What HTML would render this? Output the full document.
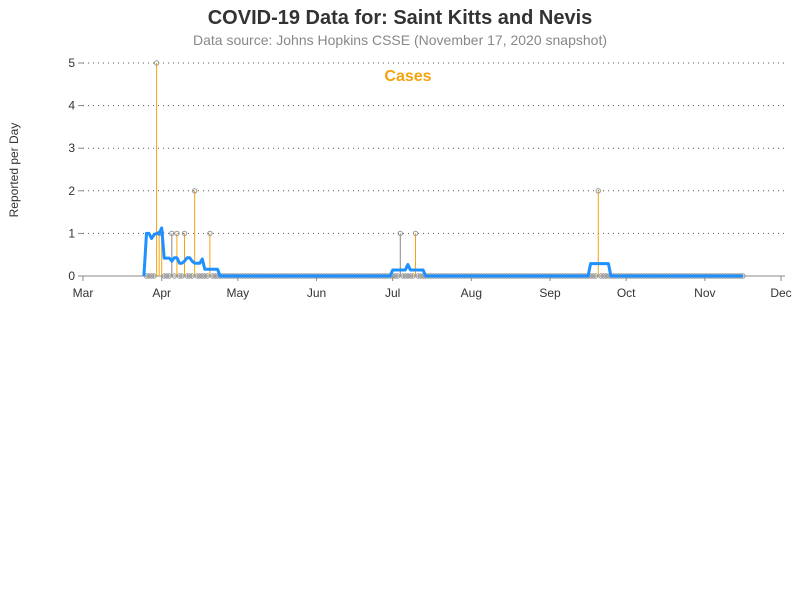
<!DOCTYPE html>
<html><head><meta charset="utf-8"><style>
body{margin:0;background:#fff;font-family:"Liberation Sans",sans-serif}
</style></head><body>
<svg id="chart" width="800" height="600" xmlns="http://www.w3.org/2000/svg" font-family="Liberation Sans, sans-serif">
<text x="400" y="24" text-anchor="middle" font-size="20" font-weight="bold" fill="#333">COVID-19 Data for: Saint Kitts and Nevis</text>
<text x="400" y="45" text-anchor="middle" font-size="14" fill="#888">Data source: Johns Hopkins CSSE (November 17, 2020 snapshot)</text>
<text transform="translate(18,170) rotate(-90)" text-anchor="middle" font-size="12" fill="#333">Reported per Day</text>
<text x="408" y="81" text-anchor="middle" font-size="16" font-weight="bold" fill="#f5a30f">Cases</text>
<g id="grid"></g><g id="axes"></g><g id="marks"></g>
</svg>
<script>
const yTicks=[0,1,2,3,4,5];
const monthLabels=["Mar","Apr","May","Jun","Jul","Aug","Sep","Oct","Nov","Dec"];
const monthStartDays=[0,31,61,92,122,153,184,214,245,275];
// daily cases: [dayIndex since Mar 1, value]
const caseDays=[29,30,31,35,37,40,44,50,125,131,203];
const caseVals=[5,1,1,1,1,1,2,1,1,1,2];
const grayDays=[35,125];
const firstDay=25, lastDay=260;
// 7-day average: [dayIndex, value]
const avgDays=[24,25,26,27,28,29,30,31,32,33,34,35,36,37,38,39,40,41,42,43,44,45,46,47,48,49,50,51,52,53,54,121,122,127,128,129,134,135,199,200,207,208];
const avgVals=[0,1,1,0.88,0.97,1,1,1.13,0.42,0.42,0.42,0.35,0.43,0.43,0.3,0.3,0.35,0.43,0.43,0.35,0.3,0.3,0.3,0.4,0.16,0.16,0.16,0.16,0.16,0.16,0,0,0.14,0.14,0.27,0.14,0.14,0,0,0.29,0.29,0];
const NS="http://www.w3.org/2000/svg";
const x=d=>83+d*698/275, y=v=>276-v*42.6;
function mk(t,a,p){const e=document.createElementNS(NS,t);for(const k in a)e.setAttribute(k,a[k]);p.appendChild(e);return e;}
const grid=document.getElementById('grid'),axes=document.getElementById('axes'),marks=document.getElementById('marks');
yTicks.forEach(v=>{
 if(v>0){const g=mk('line',{x1:83,x2:785,y1:y(v),y2:y(v),stroke:'#555','stroke-dasharray':'1,4'},grid);
 
 }
 const t=mk('text',{x:75,y:y(v)+4,'text-anchor':'end','font-size':12,fill:'#333'},axes);t.textContent=v;
 
 
 mk('line',{x1:78,x2:83,y1:y(v),y2:y(v),stroke:'#888'},axes);
});
const ax=mk('line',{x1:83,x2:785,y1:276,y2:276,stroke:'#888'},axes);


monthLabels.forEach((m,i)=>{
 const xx=x(monthStartDays[i]);
 mk('line',{x1:xx,x2:xx,y1:276,y2:281,stroke:'#888'},axes);
 const t=mk('text',{x:xx,y:297,'text-anchor':'middle','font-size':12,fill:'#333'},axes);t.textContent=m;
 
 
});
for(let d=firstDay;d<=lastDay;d++){
 const i=caseDays.indexOf(d);const v=i<0?0:caseVals[i];
 const col=grayDays.includes(d)?'#888':'#f5a30f';
 if(v>0){const l=mk('line',{x1:x(d),x2:x(d),y1:276,y2:y(v),stroke:col,'stroke-width':1},marks);
 
 }
 const c=mk('circle',{cx:x(d),cy:y(v),r:2.2,fill:'none',stroke:'#999','stroke-width':1},marks);
 
 
}
let pts=[[firstDay-1,0]];avgDays.forEach((d,i)=>pts.push([d,avgVals[i]]));pts.push([lastDay,0]);
const path=mk('polyline',{points:pts.map(p=>x(p[0]).toFixed(1)+','+y(p[1]).toFixed(1)).join(' '),fill:'none',stroke:'#1e90ff','stroke-width':3,'stroke-linejoin':'round'},marks);


</script>
</body></html>
